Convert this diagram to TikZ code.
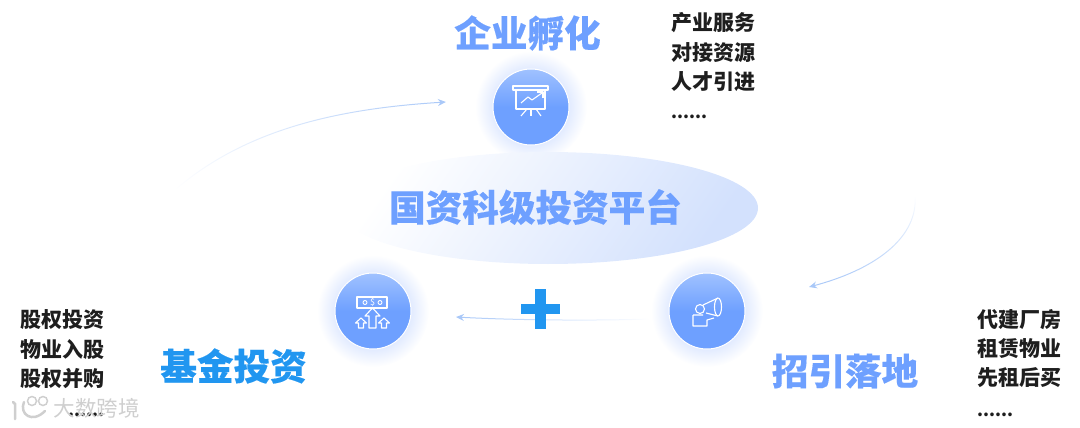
\documentclass[tikz,border=0pt]{standalone}
\usepackage{fontspec}
\setmainfont{Noto Sans CJK SC}
\newfontfamily\titlefont[BoldFeatures={FakeBold=0.3}]{Noto Sans CJK SC}
\usetikzlibrary{arrows.meta,fadings}
\definecolor{skyblue}{HTML}{2196F0}
\definecolor{softblue}{HTML}{6EA0FF}
\definecolor{paleblue}{HTML}{B4CFFF}
\definecolor{haloblue}{HTML}{E2EBFF}
\definecolor{plateblue}{HTML}{D3E1FD}
\definecolor{arcblue}{HTML}{A9C8F8}
\definecolor{listblack}{HTML}{1E1E1E}
\pgfdeclareradialshading{halo}{\pgfpoint{0bp}{0bp}}{color(0bp)=(haloblue); color(17bp)=(haloblue); color(25bp)=(white); color(50bp)=(white)}
\pgfdeclareverticalshading{disc}{100bp}{color(0bp)=(softblue); color(50bp)=(softblue); color(85bp)=(paleblue); color(100bp)=(paleblue)}
\tikzset{
  title/.style={font=\titlefont\bfseries\fontsize{36.6}{37}\selectfont, inner sep=0pt},
  listing/.style={font=\bfseries\fontsize{21}{21}\selectfont, text=listblack, inner sep=0pt, anchor=west},
  dots/.style={font=\bfseries\fontsize{17}{17}\selectfont, text=listblack, inner sep=0pt, anchor=west},
  disc/.style={circle, minimum size=76pt, inner sep=0pt, draw=white, line width=1pt, shading=disc},
  icon/.style={draw=white, line width=1.1pt, line join=round},
  sweep/.style={draw=arcblue, line width=1pt, -{Stealth[length=8pt,width=7pt]}},
  stamp/.style={draw=gray!38, line cap=round},
}
\begin{document}
\begin{tikzpicture}[x=1pt,y=-1pt]
  \useasboundingbox (0,0) rectangle (1080,428);

  \foreach \x/\y in {531/107, 373/311, 707/311}
  {
    \shade [shading=halo] (\x,\y) circle (56);
  }

  \shade [shading=axis, bottom color=plateblue, top color=white, shading angle=55]
    (548,208) ellipse [x radius=210, y radius=56];

  \path (531,107) node [disc] (hatch) {};
  \path (373,311) node [disc] (fund) {};
  \path (707,311) node [disc] (land) {};

  \coordinate (a1) at (175,190);
  \coordinate (a2) at (446,102);
  \coordinate (b1) at (915,196);
  \coordinate (b2) at (809,287);
  \coordinate (c1) at (650,319);
  \coordinate (c2) at (456,317);

  \draw [sweep, path fading=west] (a1) .. controls (250,125) and (350,108) .. (a2);
  \draw [sweep, path fading=north] (b1) .. controls (918,235) and (880,268) .. (b2);
  \draw [sweep, path fading=east] (c1) .. controls (590,321) and (510,320) .. (c2);

  \fill [skyblue] (534.5,289) rectangle (545.5,329);
  \fill [skyblue] (521,304) rectangle (560,314);

  % board
  \draw [icon] (513,86) rectangle (548,90);
  \draw [icon] (516,90) rectangle (545,109);
  \draw [icon] (521,103) -- (528,97) -- (532,100) -- (542,93);
  \draw [icon] (537,92) -- (543,92) -- (543,98);
  \draw [icon] (531,109) -- (531,116);
  \draw [icon] (527,109) -- (521,116);
  \draw [icon] (536,109) -- (541,116);

  % note and arrows
  \draw [icon] (357,297) rectangle (387,308);
  \draw [icon, line width=.9pt] (365,302.5) circle (2) (380,302.5) circle (2);
  \path (372.5,302.5) node [inner sep=0pt, font=\fontsize{9}{9}\selectfont, text=white] (cash) {\$};
  \draw [icon] (369,328) -- (369,316) -- (365,316) -- (372.5,308) -- (380,316) -- (376,316) -- (376,328) -- cycle;
  \foreach \x in {361,384}
  {
    \draw [icon] (\x-2.5,328) -- (\x-2.5,323) -- (\x-5.5,323) -- (\x,318) -- (\x+5.5,323) -- (\x+2.5,323) -- (\x+2.5,328) -- cycle;
  }

  % speaker
  \draw [icon] (700,309) circle (4.5);
  \draw [icon] (693,315) -- (693,326) -- (707,326) -- (707,320) -- (714,318) (693,315) -- (703,315);
  \draw [icon] (703,305) -- (718,298) (706,313) -- (718,316);
  \draw [icon] (718,307) ellipse [x radius=3.5, y radius=9];

  \path (535.5,207) node [title, text=softblue] (platform) {国资科级投资平台};
  \path (527.5,33) node [title, text=softblue] (hatchtitle) {企业孵化};
  \path (233.5,366) node [title, text=skyblue] (fundtitle) {基金投资};
  \path (845,371) node [title, text=softblue] (landtitle) {招引落地};

  \foreach \i/\t in {1/产业服务, 2/对接资源, 3/人才引进}
  {
    \path (671, 23+\i*29.5-29.5) node [listing] (h\i) {\t};
  }
  \path (671,117) node [dots] (h4) {......};

  \foreach \i/\t in {1/股权投资, 2/物业入股, 3/股权并购}
  {
    \path (20, 320+\i*29.5-29.5) node [listing] (f\i) {\t};
  }
  \path (68,415) node [dots] (f4) {......};

  \foreach \i/\t in {1/代建厂房, 2/租赁物业, 3/先租后买}
  {
    \path (977, 320+\i*29-29) node [listing] (l\i) {\t};
  }
  \path (977,415) node [dots] (l4) {......};

  % mark
  \draw [stamp, line width=2.5pt] (13,402) -- (15,404) -- (15,419);
  \draw [stamp, line width=2.5pt] (24,402) .. controls (19,414) and (32,424) .. (45,411);
  \draw [stamp, line width=1.5pt] (32,401) circle (4.5) (43,401) circle (4.5);
  \path (96.5,408) node [inner sep=0pt, font=\fontsize{21.5}{21.5}\selectfont, text=gray!38] (mark) {大数跨境};
\end{tikzpicture}
\end{document}
